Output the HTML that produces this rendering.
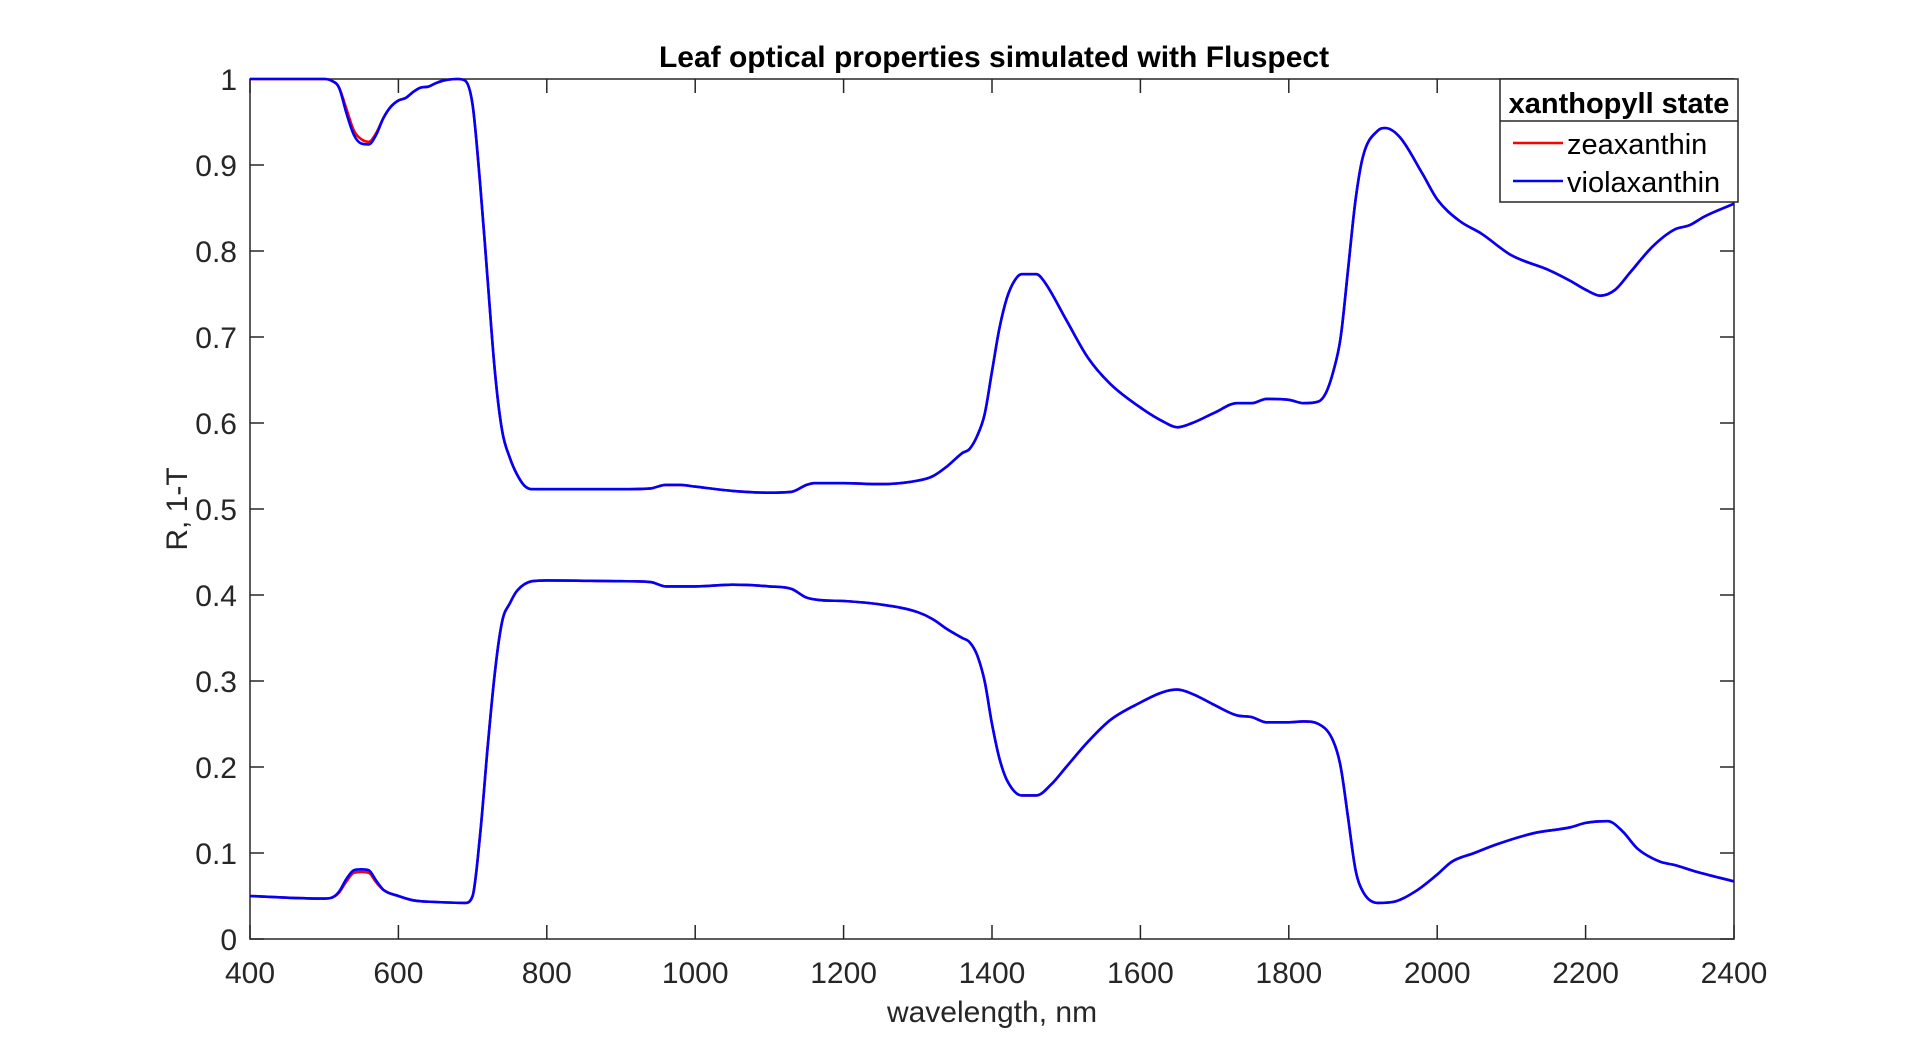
<!DOCTYPE html>
<html><head><meta charset="utf-8"><style>
html,body{margin:0;padding:0;background:#fff;}
svg{display:block;font-family:"Liberation Sans",Arial,sans-serif;}
</style></head><body>
<svg id="chart" width="1920" height="1056" viewBox="0 0 1920 1056"></svg>
<script>
const wlUpper = [400,500,510,520,530,540,550,560,570,580,590,600,610,620,630,640,650,660,680,690,700,710,720,730,740,750,760,770,780,800,900,940,960,980,1000,1050,1100,1130,1150,1160,1200,1250,1300,1320,1340,1360,1370,1380,1390,1400,1410,1420,1430,1440,1460,1470,1500,1530,1560,1600,1630,1650,1670,1700,1730,1750,1770,1800,1820,1840,1850,1860,1870,1880,1890,1900,1920,1930,1950,1980,2000,2030,2060,2100,2150,2180,2200,2220,2240,2260,2290,2320,2340,2360,2400];
const violaUpper = [1.0,1.0,0.998,0.99,0.96,0.935,0.925,0.924,0.935,0.955,0.968,0.975,0.978,0.985,0.99,0.991,0.995,0.998,1.0,0.998,0.97,0.88,0.77,0.66,0.59,0.56,0.54,0.527,0.523,0.523,0.523,0.524,0.528,0.528,0.526,0.521,0.519,0.52,0.528,0.53,0.53,0.529,0.533,0.538,0.55,0.565,0.57,0.585,0.61,0.66,0.71,0.745,0.765,0.773,0.773,0.765,0.72,0.675,0.645,0.618,0.602,0.595,0.6,0.612,0.623,0.623,0.628,0.627,0.623,0.625,0.635,0.66,0.7,0.78,0.86,0.91,0.94,0.943,0.932,0.89,0.86,0.835,0.82,0.795,0.778,0.765,0.755,0.748,0.755,0.775,0.805,0.825,0.83,0.84,0.855];
const zeaUpper = [1.0,1.0,0.998,0.99,0.965,0.94,0.93,0.927,0.937,0.955,0.968,0.975,0.978,0.985,0.99,0.991,0.995,0.998,1.0,0.998,0.97,0.88,0.77,0.66,0.59,0.56,0.54,0.527,0.523,0.523,0.523,0.524,0.528,0.528,0.526,0.521,0.519,0.52,0.528,0.53,0.53,0.529,0.533,0.538,0.55,0.565,0.57,0.585,0.61,0.66,0.71,0.745,0.765,0.773,0.773,0.765,0.72,0.675,0.645,0.618,0.602,0.595,0.6,0.612,0.623,0.623,0.628,0.627,0.623,0.625,0.635,0.66,0.7,0.78,0.86,0.91,0.94,0.943,0.932,0.89,0.86,0.835,0.82,0.795,0.778,0.765,0.755,0.748,0.755,0.775,0.805,0.825,0.83,0.84,0.855];
const wlLower = [400,500,510,520,530,540,550,560,570,580,600,620,650,690,700,710,720,730,740,750,760,780,800,900,940,960,1000,1050,1100,1130,1150,1170,1200,1250,1300,1320,1340,1360,1370,1380,1390,1400,1410,1420,1440,1460,1480,1500,1530,1560,1600,1630,1650,1670,1700,1730,1750,1770,1800,1820,1840,1860,1870,1880,1890,1900,1920,1940,1970,2000,2020,2050,2080,2130,2180,2200,2230,2250,2270,2300,2320,2350,2400];
const violaLower = [0.05,0.047,0.048,0.055,0.07,0.08,0.081,0.08,0.068,0.057,0.05,0.045,0.043,0.042,0.05,0.12,0.22,0.31,0.37,0.39,0.405,0.416,0.417,0.416,0.415,0.41,0.41,0.412,0.41,0.407,0.397,0.394,0.393,0.389,0.38,0.372,0.36,0.35,0.345,0.33,0.3,0.25,0.21,0.185,0.167,0.167,0.18,0.2,0.23,0.255,0.275,0.287,0.29,0.285,0.272,0.26,0.258,0.252,0.252,0.253,0.25,0.23,0.2,0.14,0.08,0.055,0.042,0.043,0.055,0.075,0.09,0.1,0.11,0.123,0.13,0.135,0.137,0.125,0.105,0.09,0.086,0.078,0.067];
const zeaLower = [0.05,0.047,0.048,0.054,0.067,0.077,0.078,0.077,0.066,0.057,0.05,0.045,0.043,0.042,0.05,0.12,0.22,0.31,0.37,0.39,0.405,0.416,0.417,0.416,0.415,0.41,0.41,0.412,0.41,0.407,0.397,0.394,0.393,0.389,0.38,0.372,0.36,0.35,0.345,0.33,0.3,0.25,0.21,0.185,0.167,0.167,0.18,0.2,0.23,0.255,0.275,0.287,0.29,0.285,0.272,0.26,0.258,0.252,0.252,0.253,0.25,0.23,0.2,0.14,0.08,0.055,0.042,0.043,0.055,0.075,0.09,0.1,0.11,0.123,0.13,0.135,0.137,0.125,0.105,0.09,0.086,0.078,0.067];
const xTicks = [400,600,800,1000,1200,1400,1600,1800,2000,2200,2400];
const yTicks = [0,0.1,0.2,0.3,0.4,0.5,0.6,0.7,0.8,0.9,1];
const yTickLabels = ['0','0.1','0.2','0.3','0.4','0.5','0.6','0.7','0.8','0.9','1'];

const L=250,R=1734,T=79,B=939;
const X=w=>L+(w-400)/2000*(R-L);
const Y=v=>B-v*(B-T);
const NS='http://www.w3.org/2000/svg';
const svg=document.getElementById('chart');
function el(tag,attrs,parent){const e=document.createElementNS(NS,tag);for(const k in attrs)e.setAttribute(k,attrs[k]);(parent||svg).appendChild(e);return e;}

const frame=el('rect',{x:L,y:T,width:R-L,height:B-T,fill:'#fff',stroke:'#262626','stroke-width':1.5});



xTicks.forEach(t=>{
  const x=X(t);
  el('line',{x1:x,y1:B,x2:x,y2:B-14,stroke:'#262626','stroke-width':1.5});
  el('line',{x1:x,y1:T,x2:x,y2:T+14,stroke:'#262626','stroke-width':1.5});
  const tx=el('text',{x:x,y:983,'text-anchor':'middle','font-size':30,fill:'#262626'});
  tx.textContent=t;
  
  
});
yTicks.forEach((t,i)=>{
  const y=Y(t);
  el('line',{x1:L,y1:y,x2:L+14,y2:y,stroke:'#262626','stroke-width':1.5});
  el('line',{x1:R,y1:y,x2:R-14,y2:y,stroke:'#262626','stroke-width':1.5});
  const tx=el('text',{x:237,y:y+11,'text-anchor':'end','font-size':30,fill:'#262626'});
  tx.textContent=yTickLabels[i];
  
  
});

function monotonePath(xs,ys){
  const n=xs.length, d=[], m=new Array(n);
  for(let i=0;i<n-1;i++) d.push((ys[i+1]-ys[i])/(xs[i+1]-xs[i]));
  m[0]=d[0]; m[n-1]=d[n-2];
  for(let i=1;i<n-1;i++){ m[i]=(d[i-1]*d[i]<=0)?0:(d[i-1]+d[i])/2; }
  for(let i=0;i<n-1;i++){
    if(d[i]===0){m[i]=0;m[i+1]=0;continue;}
    const a=m[i]/d[i], b=m[i+1]/d[i], s=a*a+b*b;
    if(s>9){const t=3/Math.sqrt(s); m[i]=t*a*d[i]; m[i+1]=t*b*d[i];}
  }
  let p='M'+xs[0].toFixed(1)+','+ys[0].toFixed(1);
  for(let i=0;i<n-1;i++){
    const h=(xs[i+1]-xs[i])/3;
    p+=' C'+(xs[i]+h).toFixed(1)+','+(ys[i]+m[i]*h).toFixed(1)+' '+(xs[i+1]-h).toFixed(1)+','+(ys[i+1]-m[i+1]*h).toFixed(1)+' '+xs[i+1].toFixed(1)+','+ys[i+1].toFixed(1);
  }
  return p;
}
function line(wl,vals,color,name){
  const d=monotonePath(wl.map(X),vals.map(Y));
  const p=el('path',{d:d,fill:'none',stroke:color,'stroke-width':2.6,'stroke-linejoin':'round'});
  
  
}
line(wlUpper,zeaUpper,'#ff0000','zeaxanthin-upper-line');
line(wlLower,zeaLower,'#ff0000','zeaxanthin-lower-line');
line(wlUpper,violaUpper,'#0000ff','violaxanthin-upper-line');
line(wlLower,violaLower,'#0000ff','violaxanthin-lower-line');
</script>
<svg style="position:absolute;left:0;top:0" width="1920" height="1056">
  <text x="994" y="67" text-anchor="middle" font-size="30" font-weight="bold" fill="#000" font-family="Liberation Sans, Arial, sans-serif">Leaf optical properties simulated with Fluspect</text>
  <text x="992" y="1022" text-anchor="middle" font-size="30" fill="#262626" font-family="Liberation Sans, Arial, sans-serif">wavelength, nm</text>
  <text transform="translate(187,509) rotate(-90)" text-anchor="middle" font-size="30" fill="#262626" font-family="Liberation Sans, Arial, sans-serif">R, 1-T</text>
  <g>
    <rect x="1500" y="79" width="238" height="123" fill="#fff" stroke="#262626" stroke-width="1.5"/>
    <line x1="1500" y1="121" x2="1738" y2="121" stroke="#262626" stroke-width="1.5"/>
    <text x="1619" y="113" text-anchor="middle" font-size="29" font-weight="bold" fill="#000" font-family="Liberation Sans, Arial, sans-serif">xanthopyll state</text>
    <g>
      <line x1="1513" y1="143" x2="1563" y2="143" stroke="#ff0000" stroke-width="2.5"/>
      <text x="1567" y="154" font-size="29" fill="#000" font-family="Liberation Sans, Arial, sans-serif">zeaxanthin</text>
    </g>
    <g>
      <line x1="1513" y1="181" x2="1563" y2="181" stroke="#0000ff" stroke-width="2.5"/>
      <text x="1567" y="192" font-size="29" fill="#000" font-family="Liberation Sans, Arial, sans-serif">violaxanthin</text>
    </g>
  </g>
</svg>
</body></html>
